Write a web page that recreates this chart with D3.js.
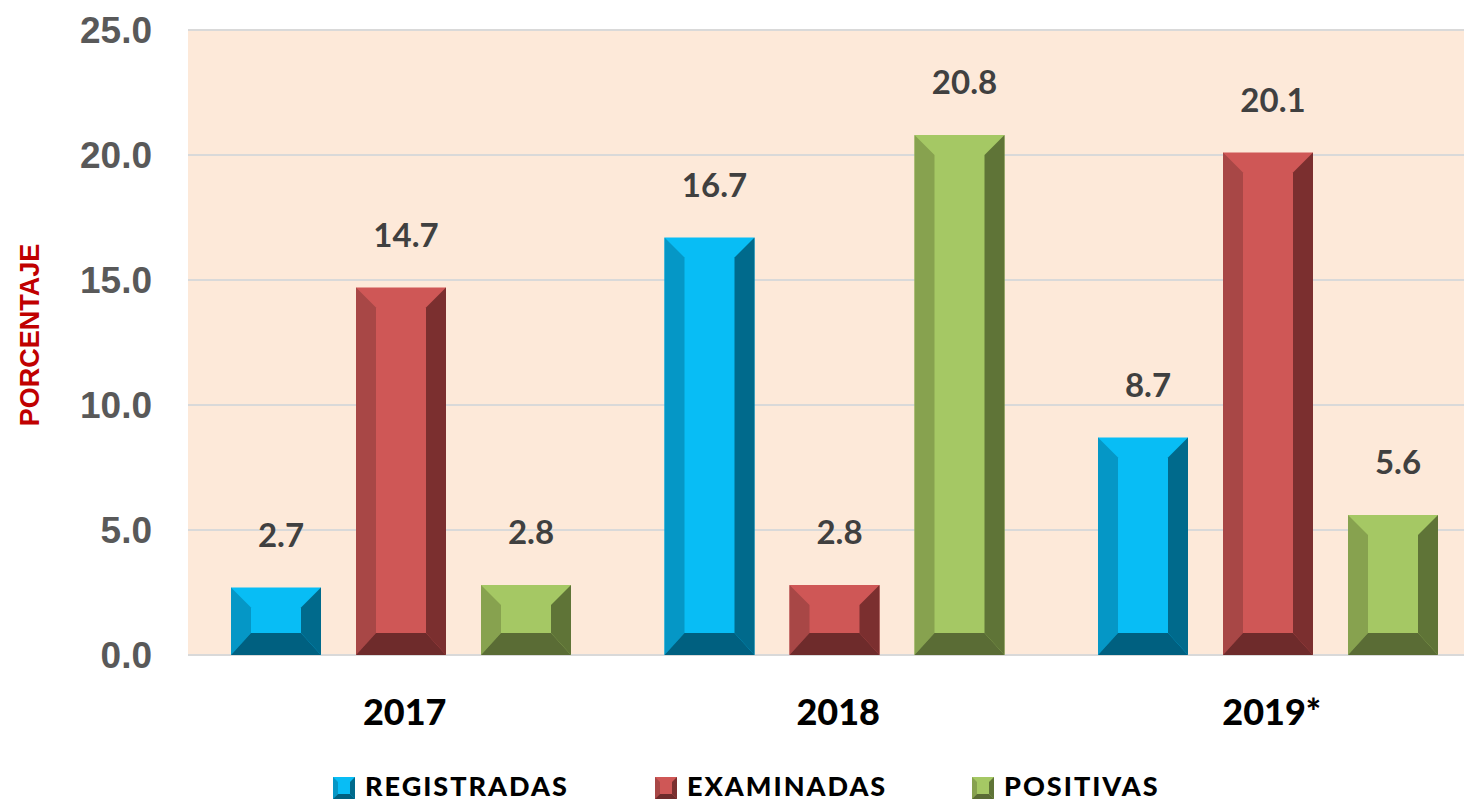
<!DOCTYPE html>
<html>
<head>
<meta charset="utf-8">
<script src="https://cdn.jsdelivr.net/npm/d3@7"></script>
<style>
  body { margin: 0; background: #fff; }
  svg { display: block; }
</style>
</head>
<body>
<div id="chart"></div>
<script>
// chart data
const years = ["2017", "2018", "2019*"];
const seriesNames = ["REGISTRADAS", "EXAMINADAS", "POSITIVAS"];
const registradas = [2.7, 16.7, 8.7];
const examinadas = [14.7, 2.8, 20.1];
const positivas = [2.8, 20.8, 5.6];
const yTicks = [0, 5, 10, 15, 20, 25];

// face, left side, right side, bottom
const palette = {
  REGISTRADAS: ["#08bdf5", "#0597c6", "#006a8c", "#006080"],
  EXAMINADAS: ["#cf5756", "#a84746", "#7b2f2f", "#6e2b2b"],
  POSITIVAS: ["#a5c864", "#87a24f", "#5f7437", "#5a6c35"]
};

const width = 1464, height = 802;
// the plot area runs past the right edge of the picture (as in the original)
const margin = {top: 30, left: 188, bottom: 147};
const innerW = 1300.5;
const innerH = height - margin.top - margin.bottom;

const svg = d3.select("#chart").append("svg")
  .attr("width", width)
  .attr("height", height);

const g = svg.append("g")
  .attr("transform", `translate(${margin.left},${margin.top})`);

const x0 = d3.scaleBand().domain(years).range([0, innerW]);
const x1 = d3.scaleBand().domain(seriesNames).range([43, 383])
  .paddingInner(0.28).paddingOuter(0);
const y = d3.scaleLinear().domain([0, 25]).range([innerH, 0]);

// plot background
g.append("rect")
  .attr("width", innerW)
  .attr("height", innerH)
  .attr("fill", "#fde9d9");

// gridlines
g.selectAll(".grid")
  .data(yTicks)
  .join("line")
  .attr("x1", 0)
  .attr("x2", innerW)
  .attr("y1", d => y(d))
  .attr("y2", d => y(d))
  .attr("stroke", "#d9d9d9")
  .attr("stroke-width", 2);

// y axis labels
g.selectAll(".ytick")
  .data(yTicks)
  .join("text")
  .attr("x", -36)
  .attr("y", d => y(d))
  .attr("dy", "0.36em")
  .attr("text-anchor", "end")
  .attr("font-family", "Liberation Sans, Arial, sans-serif")
  .attr("font-weight", "bold")
  .attr("font-size", 37)
  .attr("fill", "#595959")
  .text(d => d.toFixed(1));

// y axis title
svg.append("text")
  .attr("transform", `translate(38.5,335) rotate(-90)`)
  .attr("text-anchor", "middle")
  .attr("font-family", "Liberation Sans, Arial, sans-serif")
  .attr("font-weight", "bold")
  .attr("font-size", 27)
  .attr("fill", "#c00000")
  .text("PORCENTAJE");

const rows = [];
years.forEach((yr, i) => {
  rows.push({year: yr, series: "REGISTRADAS", value: registradas[i]});
  rows.push({year: yr, series: "EXAMINADAS", value: examinadas[i]});
  rows.push({year: yr, series: "POSITIVAS", value: positivas[i]});
});

function bevelBar(sel, x, yTop, w, h, colors, b, bb) {
  const pts = a => a.map(p => p.join(",")).join(" ");
  sel.append("rect").attr("x", x).attr("y", yTop).attr("width", w).attr("height", h).attr("fill", colors[0]);
  sel.append("polygon").attr("points", pts([[x, yTop], [x + b, yTop + b], [x + b, yTop + h - bb], [x, yTop + h]])).attr("fill", colors[1]);
  sel.append("polygon").attr("points", pts([[x + w, yTop], [x + w - b, yTop + b], [x + w - b, yTop + h - bb], [x + w, yTop + h]])).attr("fill", colors[2]);
  sel.append("polygon").attr("points", pts([[x, yTop + h], [x + b, yTop + h - bb], [x + w - b, yTop + h - bb], [x + w, yTop + h]])).attr("fill", colors[3]);
}

// bars
rows.forEach(d => {
  const bx = x0(d.year) + x1(d.series);
  const by = y(d.value);
  const bh = innerH - by;
  bevelBar(g.append("g"), bx, by, x1.bandwidth(), bh, palette[d.series], 20, 22);
});

// value labels
g.selectAll(".val")
  .data(rows)
  .join("text")
  .attr("x", d => x0(d.year) + x1(d.series) + x1.bandwidth() / 2 + 5)
  .attr("y", d => y(d.value) - 41)
  .attr("text-anchor", "middle")
  .attr("font-family", "Lato, sans-serif")
  .attr("font-weight", "bold")
  .attr("font-size", 33)
  .attr("fill", "#404040")
  .text(d => d.value.toFixed(1));

// x labels
g.selectAll(".xlab")
  .data(years)
  .join("text")
  .attr("x", d => x0(d) + x0.bandwidth() / 2)
  .attr("y", innerH + 70)
  .attr("text-anchor", "middle")
  .attr("font-family", "Lato, sans-serif")
  .attr("font-weight", "900")
  .attr("font-size", 36)
  .attr("fill", "#000")
  .text(d => d);

// legend
const legendX = [333, 655, 972];
const legend = svg.append("g");
seriesNames.forEach((s, i) => {
  const lg = legend.append("g");
  bevelBar(lg, legendX[i], 777, 22, 22, palette[s], 5, 5);
  lg.append("text")
    .attr("x", legendX[i] + 32)
    .attr("y", 796)
    .attr("font-family", "Lato, sans-serif")
    .attr("font-weight", "900")
    .attr("font-size", 27)
    .attr("letter-spacing", 2)
    .attr("fill", "#000")
    .text(s);
});
</script>
</body>
</html>
